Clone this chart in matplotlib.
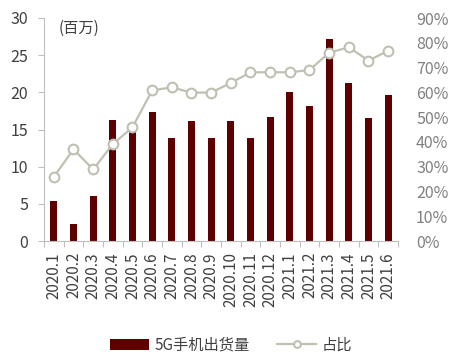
import matplotlib
matplotlib.use("Agg")
import matplotlib.pyplot as plt
import numpy as np
from matplotlib.ticker import FuncFormatter, FixedLocator

plt.rcParams['font.family'] = ['Noto Sans CJK SC', 'DejaVu Sans']

categories = ["2020.1", "2020.2", "2020.3", "2020.4", "2020.5", "2020.6", "2020.7",
              "2020.8", "2020.9", "2020.10", "2020.11", "2020.12", "2021.1", "2021.2",
              "2021.3", "2021.4", "2021.5", "2021.6"]
shipments = [5.4, 2.25, 6.1, 16.3, 15.0, 17.4, 13.8, 16.1, 13.8, 16.1, 13.9, 16.7,
             20.0, 18.1, 27.2, 21.3, 16.6, 19.7]
share = [25.9, 37.0, 28.9, 39.1, 45.9, 60.8, 62.0, 59.9, 59.9, 63.8, 68.1, 68.1,
         68.1, 69.0, 76.0, 78.2, 72.8, 76.8]
left_ticks = [0, 5, 10, 15, 20, 25, 30]
right_ticks = [0, 10, 20, 30, 40, 50, 60, 70, 80, 90]

bar_color = "#5e0000"
line_color = "#c0c0b2"
axis_color = "#bfbfbf"

fig = plt.figure(figsize=(4.58, 3.62), dpi=100)
ax = fig.add_axes([44/458, 1-241/362, (398-44)/458, (241-18)/362])
x = np.arange(len(categories))
bars = ax.bar(x, shipments, width=0.35, color=bar_color, label="5G手机出货量", zorder=2)
ax.set_xlim(-0.5, len(categories)-0.5)
ax.set_ylim(0, 30)
ax.set_yticks(left_ticks)
ax.tick_params(axis='y', direction='out', length=4.3, width=0.8, color=axis_color,
               labelsize=11.5, labelcolor="#404040", pad=7)
ax.set_xticks(x)
ax.set_xticklabels(categories, rotation=90, fontsize=11, color="#404040")
ax.tick_params(axis='x', length=0, pad=8)
ax.xaxis.set_minor_locator(FixedLocator(np.arange(-0.5, len(categories), 1.0)))
ax.tick_params(axis='x', which='minor', direction='out', length=4, width=0.8, color=axis_color)
for s in ['top', 'right']:
    ax.spines[s].set_visible(False)
for s in ['left', 'bottom']:
    ax.spines[s].set_color(axis_color)
    ax.spines[s].set_linewidth(0.8)

ax2 = ax.twinx()
line, = ax2.plot(x, share, color=line_color, lw=1.6, marker='o', markersize=7,
                 markerfacecolor='white', markeredgecolor=line_color, markeredgewidth=1.5,
                 label="占比", zorder=3)
ax2.set_ylim(0, 90)
ax2.set_yticks(right_ticks)
ax2.yaxis.set_major_formatter(FuncFormatter(lambda v, p: f"{int(v)}%"))
ax2.tick_params(axis='y', length=0, labelsize=11.5, labelcolor="#808080", pad=13)
for s in ax2.spines.values():
    s.set_visible(False)

ax.text(0.04, 0.99, "(百万)", transform=ax.transAxes, fontsize=11, color="#404040",
        va='top', ha='left')

fig.legend(handles=[bars, line], labels=["5G手机出货量", "占比"], loc='center',
           bbox_to_anchor=(0.505, 1-345/362), ncol=2, frameon=False, fontsize=11,
           handlelength=2.5, handleheight=0.75, handletextpad=0.4, columnspacing=1.8,
           markerscale=0.7, labelcolor="#404040")

fig.savefig("out.png", dpi=100)
